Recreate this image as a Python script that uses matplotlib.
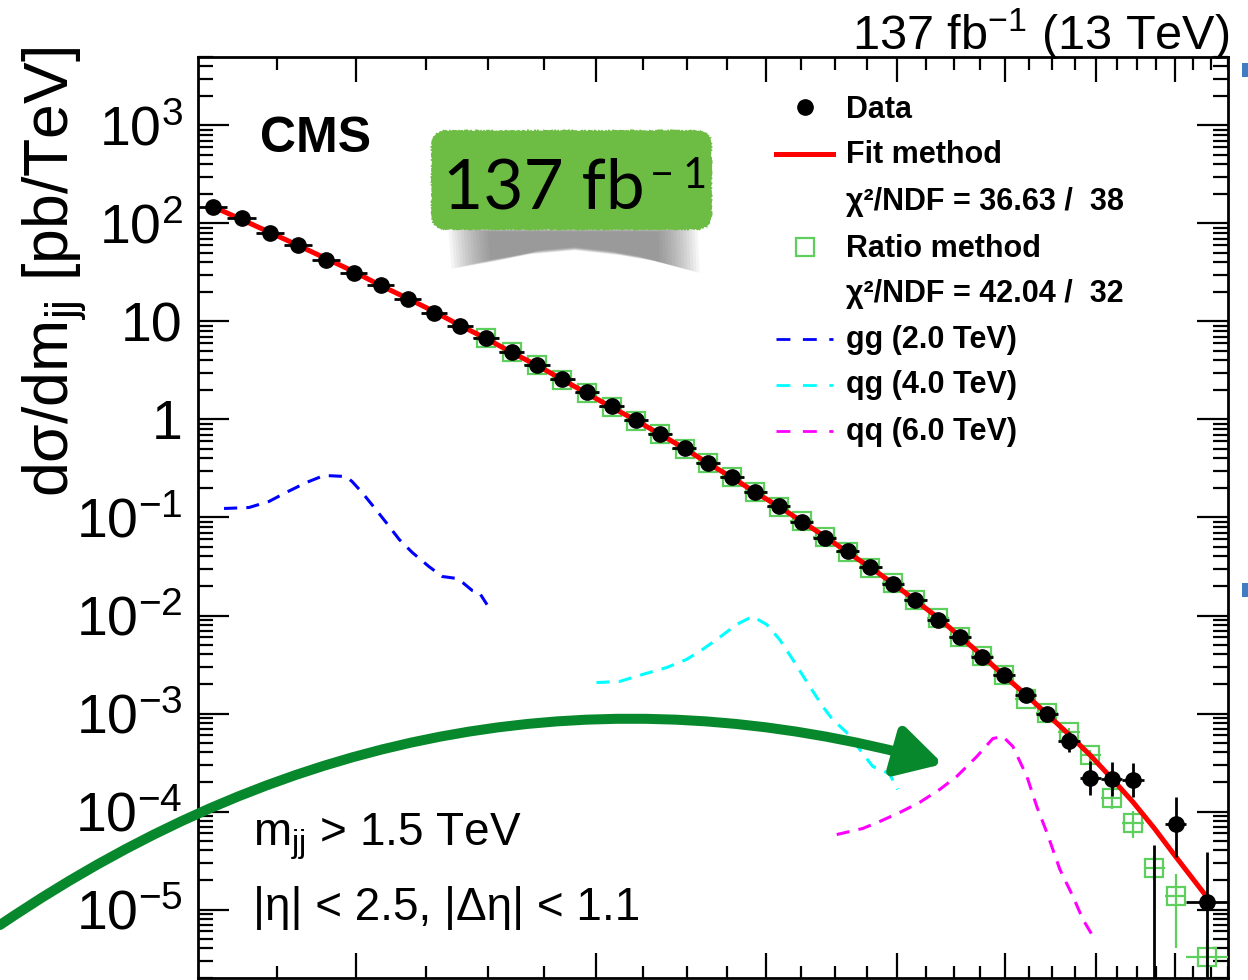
import numpy as np
import matplotlib
matplotlib.use("Agg")
import matplotlib.pyplot as plt
from matplotlib.path import Path
from matplotlib.patches import FancyArrowPatch, FancyBboxPatch, Polygon, Rectangle
from matplotlib.lines import Line2D
from matplotlib.ticker import FixedLocator, NullFormatter, FuncFormatter

plt.rcParams['font.family'] = ['Liberation Sans', 'DejaVu Sans']
plt.rcParams['mathtext.fontset'] = 'custom'
plt.rcParams['mathtext.rm'] = 'Liberation Sans'
plt.rcParams['mathtext.it'] = 'Liberation Sans:italic'
plt.rcParams['mathtext.bf'] = 'Liberation Sans:bold'

# dijet mass bins (TeV), last two bins merged
bin_edges = [1.530, 1.607, 1.687, 1.770, 1.856, 1.945, 2.037, 2.132, 2.231, 2.332,
             2.438, 2.546, 2.659, 2.775, 2.895, 3.019, 3.147, 3.279, 3.416, 3.558,
             3.704, 3.854, 4.010, 4.171, 4.337, 4.509, 4.686, 4.869, 5.058, 5.253,
             5.455, 5.663, 5.877, 6.099, 6.328, 6.564, 6.808, 7.060, 7.320, 7.589,
             7.866, 8.152, 8.752]

# measured dsigma/dmjj (pb/TeV)
data = [149, 112.5, 79.1, 59.7, 42.9, 31.6, 23.3, 16.8, 12.35, 9.10,
        6.71, 4.94, 3.56, 2.56, 1.89, 1.36, 0.977, 0.703, 0.506, 0.364,
        0.256, 0.184, 0.1295, 0.0910, 0.0625, 0.0450, 0.0309, 0.0212, 0.01456, 0.00910,
        0.00597, 0.00373, 0.00250, 0.00153, 0.00100, 5.18e-4, 2.22e-4, 2.17e-4, 2.12e-4, 0.0,
        7.37e-5, 1.18e-5]
data_err_lo = [0.5, 0.4, 0.3, 0.25, 0.2, 0.15, 0.12, 0.09, 0.07, 0.055,
               0.045, 0.036, 0.028, 0.022, 0.018, 0.014, 0.011, 0.009, 0.007, 0.0055,
               0.0043, 0.0034, 0.0027, 0.0021, 0.0016, 0.0013, 0.001, 0.00078, 0.0006, 0.00043,
               0.00033, 0.00024, 0.00018, 0.00013, 0.0001, 1.09e-4, 0.73e-4, 0.72e-4, 0.73e-4, 0.0,
               3.97e-5, 1.17e-5]
data_err_hi = [0.5, 0.4, 0.3, 0.25, 0.2, 0.15, 0.12, 0.09, 0.07, 0.055,
               0.045, 0.036, 0.028, 0.022, 0.018, 0.014, 0.011, 0.009, 0.007, 0.0055,
               0.0043, 0.0034, 0.0027, 0.0021, 0.0016, 0.0013, 0.001, 0.00078, 0.0006, 0.00043,
               0.00033, 0.00024, 0.00018, 0.00013, 0.0001, 1.37e-4, 1.02e-4, 1.0e-4, 1.04e-4, 4.5e-5,
               6.8e-5, 2.64e-5]

# fit method
fit = [149, 109.9, 80.9, 59.7, 43.9, 32.4, 23.3, 17.2, 12.65, 9.10,
       6.71, 4.83, 3.56, 2.56, 1.84, 1.33, 0.977, 0.703, 0.506, 0.356,
       0.256, 0.180, 0.1295, 0.0910, 0.0640, 0.0440, 0.0309, 0.0212, 0.01422, 0.00955,
       0.00611, 0.00391, 0.00244, 0.00156, 9.77e-4, 6.11e-4, 3.73e-4, 2.17e-4, 1.24e-4, 6.71e-5,
       3.47e-5, 1.32e-5]

# ratio method, starts at bin 11
ratio_first_bin = 10
ratio = [6.75, 4.88, 3.58, 2.55, 1.86, 1.34, 0.975, 0.705, 0.504, 0.358,
         0.257, 0.182, 0.129, 0.0912, 0.0635, 0.0443, 0.0308, 0.0213, 0.0143, 0.00945,
         0.00605, 0.00385, 0.00246, 1.42e-3, 1.02e-3, 6.40e-4, 3.73e-4, 1.36e-4, 7.72e-5, 2.68e-5,
         1.36e-5, 3.31e-6]
ratio_err_lo = [0.04, 0.03, 0.025, 0.02, 0.016, 0.012, 0.01, 0.008, 0.006, 0.0048,
                0.0038, 0.003, 0.0024, 0.0018, 0.0014, 0.0011, 0.0009, 0.0007, 0.00052, 0.0004,
                0.0003, 0.00022, 0.00016, 0.00012, 0.0001, 7e-5, 5e-5, 0.31e-4, 2.3e-5, 0.66e-5,
                0.96e-5, 2.5e-6]
ratio_err_hi = [0.04, 0.03, 0.025, 0.02, 0.016, 0.012, 0.01, 0.008, 0.006, 0.0048,
                0.0038, 0.003, 0.0024, 0.0018, 0.0014, 0.0011, 0.0009, 0.0007, 0.00052, 0.0004,
                0.0003, 0.00022, 0.00016, 0.00012, 0.0001, 7e-5, 5e-5, 0.32e-4, 2.3e-5, 0.8e-5,
                0.92e-5, 1.6e-6]

# signal shapes
gg_mass = [1.599, 1.668, 1.725, 1.776, 1.838, 1.894, 1.966, 1.986, 2.020, 2.062,
           2.104, 2.151, 2.199, 2.262, 2.314, 2.370, 2.395, 2.434, 2.463, 2.496]
gg_val = [0.1236, 0.1265, 0.1456, 0.180, 0.2275, 0.2685, 0.262, 0.233, 0.180, 0.1265,
          0.0889, 0.0597, 0.0440, 0.0316, 0.0250, 0.0239, 0.0217, 0.0180, 0.0172, 0.0129]
qg_mass = [3.004, 3.123, 3.247, 3.382, 3.499, 3.595, 3.700, 3.808, 3.913, 4.007,
           4.096, 4.188, 4.310, 4.406, 4.481, 4.589, 4.691, 4.796, 4.894, 4.936, 5.003]
qg_val = [2.07e-3, 2.12e-3, 2.50e-3, 2.94e-3, 3.56e-3, 4.50e-3, 5.97e-3, 8.10e-3, 9.77e-3, 8.10e-3,
          5.69e-3, 3.56e-3, 1.89e-3, 1.18e-3, 8.68e-4, 6.40e-4, 4.30e-4, 2.88e-4, 2.56e-4, 2.39e-4, 1.68e-4]
qq_mass = [4.512, 4.715, 4.853, 5.020, 5.193, 5.372, 5.529, 5.720, 5.878, 5.978,
           6.080, 6.226, 6.332, 6.440, 6.584, 6.731, 6.846, 6.986]
qq_val = [5.82e-5, 6.71e-5, 7.91e-5, 9.77e-5, 1.24e-4, 1.68e-4, 2.28e-4, 3.64e-4, 5.56e-4, 5.82e-4,
          4.61e-4, 2.28e-4, 1.12e-4, 6.11e-5, 2.56e-5, 1.36e-5, 7.91e-6, 4.94e-6]

ytick_vals = [1e-5, 1e-4, 1e-3, 1e-2, 1e-1, 1, 10, 1e2, 1e3]
xtick_major = [2, 3, 4, 5, 6, 7, 8]

green = '#5ccf5c'

edges = np.array(bin_edges)
lo, hi = edges[:-1], edges[1:]
centers = 0.5 * (lo + hi)
data = np.array(data)
dlo = np.array(data_err_lo)
dhi = np.array(data_err_hi)

fig = plt.figure(figsize=(12.48, 9.8), dpi=100)
ax = fig.add_axes([198 / 1248, 2 / 980, 1030 / 1248, 921 / 980])
ax.set_xscale('log')
ax.set_yscale('log')
ax.set_xlim(bin_edges[0], bin_edges[-1])
ax.set_ylim(2.0e-6, 5.0e3)

# signals
dash = (0, (4.3, 3.0))
ax.plot(gg_mass, gg_val, color='blue', lw=2.2, ls=dash, zorder=2)
ax.plot(qg_mass, qg_val, color='cyan', lw=2.2, ls=dash, zorder=2)
ax.plot(qq_mass, qq_val, color='magenta', lw=2.2, ls=dash, zorder=2)

# ratio method
rc = centers[ratio_first_bin:]
ax.errorbar(rc, ratio,
            xerr=[rc - lo[ratio_first_bin:], hi[ratio_first_bin:] - rc],
            yerr=[ratio_err_lo, ratio_err_hi],
            fmt='s', ms=13.5, mfc='none', mec=green, mew=1.6,
            ecolor=green, elinewidth=1.6, capsize=0, zorder=3)

# fit
ax.plot(centers, fit, color='red', lw=3.6, zorder=4)

# data
m = data > 0
ax.errorbar(centers[m], data[m],
            xerr=[(centers - lo)[m], (hi - centers)[m]],
            yerr=[dlo[m], dhi[m]],
            fmt='o', ms=11, color='black', elinewidth=2, capsize=0, zorder=5)
ax.vlines(centers[~m], 1e-8, dhi[~m], color='black', lw=2, zorder=5)

# axes style
for s in ax.spines.values():
    s.set_linewidth(2)
ax.yaxis.set_major_locator(FixedLocator(ytick_vals))
ymin_ticks = [k * 10.0 ** e for e in range(-6, 4) for k in range(2, 10)]
ax.yaxis.set_minor_locator(FixedLocator(ymin_ticks))
ax.yaxis.set_minor_formatter(NullFormatter())


def ylab(v, pos):
    e = int(round(np.log10(v)))
    if e == 0:
        return '1'
    if e == 1:
        return '10'
    return r'$10^{%d}$' % e


ax.yaxis.set_major_formatter(FuncFormatter(ylab))
ax.xaxis.set_major_locator(FixedLocator(xtick_major))
xminor = [v / 4 for v in range(7, 36) if v % 4 != 0]
ax.xaxis.set_minor_locator(FixedLocator(xminor))
ax.xaxis.set_major_formatter(NullFormatter())
ax.xaxis.set_minor_formatter(NullFormatter())
ax.tick_params(axis='both', which='both', direction='in', top=True, right=True, width=1.6)
ax.tick_params(axis='y', which='major', length=22, labelsize=40, pad=11)
ax.tick_params(axis='y', which='minor', length=11)
ax.tick_params(axis='x', which='major', length=18, labelbottom=False)
ax.tick_params(axis='x', which='minor', length=9)

# overlay in picture pixels for annotations
ov = fig.add_axes([0, 0, 1, 1], zorder=10)
ov.set_xlim(0, 1248)
ov.set_ylim(980, 0)
ov.axis('off')
ov.patch.set_visible(False)

ov.text(68, 272, 'd\u03c3/dm$_{\\mathrm{jj}}$ [pb/TeV]', fontsize=45, rotation=90,
        rotation_mode='anchor', ha='center', va='baseline')
ov.text(1229, 50, '137 fb$^{-1}$ (13 TeV)', fontsize=35, ha='right', va='baseline')
ov.text(260, 152, 'CMS', fontsize=36, fontweight='bold', va='baseline')
ov.text(253, 845, 'm$_{\\mathrm{jj}}$ > 1.5 TeV', fontsize=33, va='baseline')
ov.text(253, 920, '|\u03b7| < 2.5, |\u0394\u03b7| < 1.1', fontsize=33, va='baseline')

# legend
leg_rows = [
    ('Data', 118), ('Fit method', 163), ('\u03c7\u00b2/NDF = 36.63 /  38', 210),
    ('Ratio method', 257), ('\u03c7\u00b2/NDF = 42.04 /  32', 302),
    ('gg (2.0 TeV)', 348), ('qg (4.0 TeV)', 393), ('qq (6.0 TeV)', 440)]
for txt, yb in leg_rows:
    ov.text(846, yb, txt, fontsize=22, fontweight='bold', va='baseline')
ov.add_line(Line2D([805], [107], marker='o', ms=11, color='black'))
ov.add_line(Line2D([776, 833], [154, 154], color='red', lw=3.6))
ov.add_line(Line2D([805], [247], marker='s', ms=13.5, mfc='none', mec=green, mew=1.6))
for col, yy in [('blue', 339), ('cyan', 385), ('magenta', 431)]:
    ov.add_line(Line2D([776, 833], [yy, yy], color=col, lw=2.0, ls=(0, (5.0, 4.5))))

# luminosity badge with a soft shadow below it
shadow = [(452, 228), (694, 228), (696, 272), (660, 262), (620, 255), (575, 250),
          (530, 254), (490, 262), (455, 268)]
for k in range(14):
    cx, cy = 574, 240
    f = 1.03 - k * 0.025
    pts = [(cx + (x - cx) * f, cy + (y - cy) * f) for x, y in shadow]
    ov.add_patch(Polygon(pts, closed=True, fc='#505050', ec='none', alpha=0.055, zorder=1))
badge = FancyBboxPatch((433, 132), 277, 96, boxstyle='round,pad=0,rounding_size=14',
                       fc='#6dbd45', ec='#6dbd45', lw=2, zorder=2)
badge.set_sketch_params(scale=0.8, length=3.0, randomness=2.0)
ov.add_patch(badge)
ov.text(443, 208, '137 fb', fontsize=50, family='Lato', va='baseline', zorder=3)
ov.text(650, 188, '\u2212', fontsize=30, family='Lato', va='baseline', zorder=3)
ov.text(683, 188, '1', fontsize=30, family='Lato', va='baseline', zorder=3)

# green arrow
arrow_path = Path([(0, 925), (442, 625), (943, 764)],
                  [Path.MOVETO, Path.CURVE3, Path.CURVE3])
arr = FancyArrowPatch(path=arrow_path, arrowstyle='-|>,head_length=1.7,head_width=0.95',
                      mutation_scale=16, lw=7.2, color='#08882c', zorder=4)
ov.add_patch(arr)

# small blue marks at the right border of the picture
for yy in (63, 583):
    ov.add_patch(Rectangle((1242, yy), 6, 14, fc='#3f7cc4', ec='none'))

fig.savefig('out.png', dpi=100)
